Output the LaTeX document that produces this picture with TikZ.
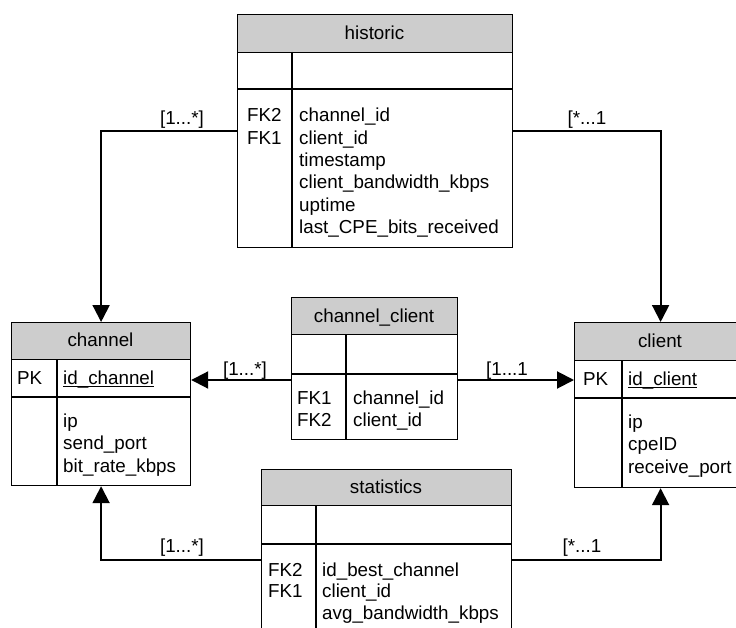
\documentclass[tikz,border=0pt]{standalone}
\usepackage{fontspec}
\setmainfont{Liberation Sans}
\usetikzlibrary{arrows.meta}
\definecolor{hdrgray}{HTML}{CDCDCD}
\tikzset{
  tbl/.style={draw, line width=1.2pt, inner sep=0pt, anchor=north west},
  hdr/.style={draw, fill=hdrgray, line width=1.2pt, inner sep=0pt, anchor=north west},
  rule/.style={line width=1.2pt},
  txt/.style={anchor=base west, inner sep=0pt, font=\fontsize{18.8}{22.6}\selectfont},
  ttl/.style={anchor=base, inner sep=0pt, font=\fontsize{18.8}{22.6}\selectfont},
  card/.style={anchor=base, inner sep=0pt, font=\fontsize{18.8}{22.6}\selectfont},
  rel/.style={line width=2pt, -{Triangle[length=17pt,width=17pt]}},
  uline/.style={line width=1.3pt}
}
\begin{document}
\begin{tikzpicture}[x=1pt,y=-1pt]
\clip (0,0) rectangle (736,628);
\fill[white] (0,0) rectangle (736,628);

% ---------- historic ----------
\node[hdr, minimum width=275pt, minimum height=38pt] (historic-h) at (237,14) {};
\node[tbl, minimum width=275pt, minimum height=233pt] (historic) at (237,14) {};
\draw[rule] (237,89) -- (512,89);
\draw[rule] (292,52) -- (292,247);
\node[ttl] (historic-t) at (374.5,40) {historic};
\node[txt] (historic-k1) at (247,122) {FK2};
\node[txt] (historic-k2) at (247,144.3) {FK1};
\node[txt] (historic-f1) at (299,122) {channel\_id};
\node[txt] (historic-f2) at (299,144.3) {client\_id};
\node[txt] (historic-f3) at (299,166.6) {timestamp};
\node[txt] (historic-f4) at (299,188.9) {client\_bandwidth\_kbps};
\node[txt] (historic-f5) at (299,211.2) {uptime};
\node[txt] (historic-f6) at (299,233.5) {last\_CPE\_bits\_received};

% ---------- channel ----------
\node[hdr, minimum width=179pt, minimum height=37pt] (channel-h) at (11,322) {};
\node[tbl, minimum width=179pt, minimum height=163pt] (channel) at (11,322) {};
\draw[rule] (11,397) -- (190,397);
\draw[rule] (57,359) -- (57,485);
\node[ttl] (channel-t) at (100.5,346) {channel};
\node[txt] (channel-k) at (17,384) {PK};
\node[txt] (channel-pk) at (63,384) {id\_channel};
\draw[uline] ([yshift=-2.6pt]channel-pk.base west) -- ([yshift=-2.6pt]channel-pk.base east);
\node[txt] (channel-f1) at (63,427) {ip};
\node[txt] (channel-f2) at (63,449.5) {send\_port};
\node[txt] (channel-f3) at (63,472) {bit\_rate\_kbps};

% ---------- client ----------
\node[hdr, minimum width=172pt, minimum height=38pt] (client-h) at (574,322) {};
\node[tbl, minimum width=172pt, minimum height=165pt] (client) at (574,322) {};
\draw[rule] (574,398) -- (746,398);
\draw[rule] (622,360) -- (622,487);
\node[ttl] (client-t) at (660,347) {client};
\node[txt] (client-k) at (583,385) {PK};
\node[txt] (client-pk) at (628,385) {id\_client};
\draw[uline] ([yshift=-2.6pt]client-pk.base west) -- ([yshift=-2.6pt]client-pk.base east);
\node[txt] (client-f1) at (628,428) {ip};
\node[txt] (client-f2) at (628,450.5) {cpeID};
\node[txt] (client-f3) at (628,473) {receive\_port};

% ---------- channel_client ----------
\node[hdr, minimum width=166pt, minimum height=37pt] (chcl-h) at (291,297) {};
\node[tbl, minimum width=166pt, minimum height=142pt] (chcl) at (291,297) {};
\draw[rule] (291,374) -- (457,374);
\draw[rule] (346,334) -- (346,439);
\node[ttl] (chcl-t) at (374,322) {channel\_client};
\node[txt] (chcl-k1) at (297,404) {FK1};
\node[txt] (chcl-k2) at (297,426) {FK2};
\node[txt] (chcl-f1) at (353,404) {channel\_id};
\node[txt] (chcl-f2) at (353,426) {client\_id};

% ---------- statistics ----------
\node[hdr, minimum width=250pt, minimum height=36pt] (stats-h) at (261,469) {};
\node[tbl, minimum width=250pt, minimum height=175pt] (stats) at (261,469) {};
\draw[rule] (261,544) -- (511,544);
\draw[rule] (316,505) -- (316,644);
\node[ttl] (stats-t) at (386,493) {statistics};
\node[txt] (stats-k1) at (268,576) {FK2};
\node[txt] (stats-k2) at (268,597.5) {FK1};
\node[txt] (stats-f1) at (322,576) {id\_best\_channel};
\node[txt] (stats-f2) at (322,597.5) {client\_id};
\node[txt] (stats-f3) at (322,619) {avg\_bandwidth\_kbps};

% ---------- relationships ----------
\coordinate (historic-l) at (237,131);
\coordinate (historic-r) at (512,131);
\coordinate (chcl-l) at (291,380);
\coordinate (chcl-r) at (457,380);
\coordinate (stats-l) at (261,560);
\coordinate (stats-r) at (511,560);

\draw[rel] (historic-l) -| (channel.north);
\draw[rel] (historic-r) -| (client.north);
\draw[rel] (chcl-l) -- (chcl-l -| channel.east);
\draw[rel] (chcl-r) -- (chcl-r -| client.west);
\draw[rel] (stats-l) -| (channel.south);
\draw[rel] (stats-r) -| (client.south);

\node[card] (card-hl) at (182,125) {[1...*]};
\node[card] (card-hr) at (587,125) {[*...1};
\node[card] (card-cl) at (245,375) {[1...*]};
\node[card] (card-cr) at (507,375) {[1...1};
\node[card] (card-sl) at (182,552) {[1...*]};
\node[card] (card-sr) at (582,552) {[*...1};
\end{tikzpicture}
\end{document}
